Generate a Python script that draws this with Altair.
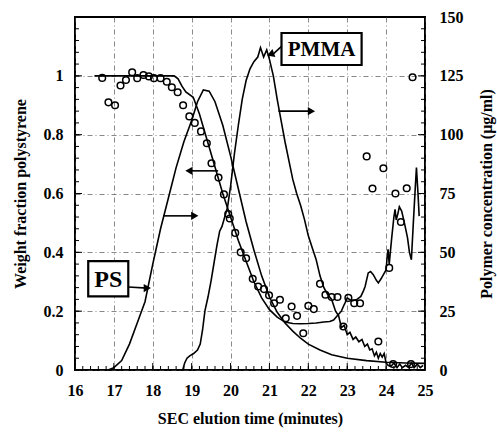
import altair as alt
import pandas as pd
import numpy as np

FONT = "Liberation Serif"
W, H = 350, 353

# ---- weight fraction polystyrene (circles, left axis)
wf_t = [16.70, 16.86, 17.03, 17.17, 17.31, 17.47, 17.60, 17.76, 17.90, 18.03, 18.20, 18.36,
        18.49, 18.64, 18.78, 18.94, 19.08, 19.24, 19.39, 19.51, 19.69, 19.83, 19.94, 19.98,
        20.12, 20.26, 20.40, 20.57, 20.71, 20.86, 20.99, 21.12, 21.27, 21.42, 21.57, 21.71,
        21.87, 22.00, 22.14, 22.30, 22.44, 22.60, 22.75, 22.90, 23.03, 23.18, 23.33, 23.50,
        23.65, 23.80, 23.93, 24.08, 24.18, 24.24, 24.38, 24.53, 24.64, 24.68]
wf_f = [0.993, 0.910, 0.900, 0.967, 0.986, 1.012, 0.992, 1.003, 0.998, 0.992, 0.992, 0.980,
        0.961, 0.944, 0.900, 0.862, 0.840, 0.811, 0.771, 0.703, 0.654, 0.597, 0.530, 0.515,
        0.466, 0.400, 0.380, 0.310, 0.284, 0.275, 0.254, 0.227, 0.239, 0.176, 0.216, 0.184,
        0.125, 0.218, 0.207, 0.293, 0.256, 0.248, 0.248, 0.148, 0.245, 0.227, 0.227, 0.726,
        0.617, 0.097, 0.686, 0.347, 0.020, 0.600, 0.503, 0.618, 0.020, 0.995]

# ---- weight fraction line (left axis)
wfl_t = [16.50, 18.55, 18.65, 18.75, 18.85, 19.04, 19.20, 19.40, 19.60, 19.80, 20.00, 20.20,
         20.40, 20.60, 20.80, 21.00, 21.20, 21.40, 21.60, 21.80, 22.00, 22.20, 22.40, 22.55,
         22.65, 22.75, 22.85, 22.90, 22.95, 23.00, 23.07, 23.15, 23.25, 23.35, 23.42, 23.46,
         23.54, 23.60, 23.67, 23.75, 23.80, 23.87, 23.93, 24.00, 24.03, 24.05, 24.08, 24.14,
         24.20, 24.23, 24.26, 24.30, 24.34, 24.40, 24.47, 24.55, 24.60, 24.65, 24.70, 24.75,
         24.78, 24.82, 24.85]
wfl_f = [1.000, 1.000, 0.990, 0.965, 0.945, 0.927, 0.870, 0.780, 0.690, 0.600, 0.520, 0.440,
         0.370, 0.300, 0.245, 0.205, 0.180, 0.163, 0.158, 0.157, 0.158, 0.160, 0.163, 0.165,
         0.170, 0.185, 0.200, 0.216, 0.230, 0.245, 0.239, 0.236, 0.240, 0.250, 0.270, 0.284,
         0.330, 0.335, 0.324, 0.305, 0.296, 0.310, 0.324, 0.340, 0.390, 0.410, 0.360, 0.444,
         0.520, 0.546, 0.510, 0.530, 0.555, 0.540, 0.500, 0.450, 0.400, 0.375, 0.500, 0.620,
         0.688, 0.600, 0.523]

# ---- PS concentration (right axis)
ps_t = [16.85, 17.00, 17.20, 17.40, 17.60, 17.80, 18.00, 18.20, 18.40, 18.60, 18.80, 19.00,
        19.15, 19.30, 19.45, 19.60, 19.80, 20.00, 20.20, 20.40, 20.60, 20.80, 21.00, 21.20,
        21.40, 21.60, 21.80, 22.00, 22.30, 22.60, 23.00, 23.50, 24.00, 24.50, 25.00]
ps_c = [0.0, 1.0, 4.0, 11.0, 20.0, 29.0, 45.0, 60.0, 73.0, 86.0, 97.0, 106.0,
        114.0, 119.0, 118.5, 114.0, 104.0, 91.0, 77.0, 63.0, 51.0, 40.0, 31.0, 24.5,
        20.0, 16.5, 13.5, 11.0, 8.5, 6.5, 5.0, 4.0, 3.3, 3.0, 2.8]

# ---- PMMA concentration (right axis)
pm_t = [18.77, 18.82, 18.88, 18.95, 19.05, 19.15, 19.22, 19.28, 19.34, 19.42, 19.50, 19.58,
        19.65, 19.72, 19.78, 19.85, 19.92, 20.00, 20.10, 20.20, 20.30, 20.40, 20.50, 20.60,
        20.70, 20.77, 20.85, 20.93, 21.00, 21.10, 21.20, 21.30, 21.40, 21.50, 21.60, 21.70,
        21.80, 21.90, 22.00, 22.10, 22.20, 22.30, 22.40, 22.50, 22.60, 22.70, 22.78, 22.85,
        22.92, 23.00, 23.07, 23.15, 23.22, 23.30, 23.38, 23.45, 23.52, 23.58, 23.64, 23.70,
        23.75, 23.80, 23.85, 23.90, 23.95, 24.00, 24.05, 24.12, 24.20, 24.28, 24.35, 24.42,
        24.50, 24.58, 24.65, 24.72, 24.80, 24.88, 24.95]
pm_c = [0.0, 3.0, 5.0, 6.0, 7.0, 8.5, 11.0, 17.0, 25.0, 31.0, 38.0, 46.0,
        53.0, 59.0, 61.0, 65.0, 69.0, 78.0, 92.0, 104.0, 115.0, 123.0, 128.0, 131.0,
        133.0, 137.0, 133.0, 136.0, 132.0, 125.0, 115.0, 106.0, 97.0, 89.0, 81.0, 75.0,
        70.0, 64.0, 57.0, 52.0, 47.0, 40.0, 35.0, 32.0, 30.0, 25.0, 23.0, 18.0,
        19.0, 15.0, 16.0, 13.0, 14.0, 12.0, 13.0, 10.0, 11.0, 8.5, 9.0, 6.0,
        7.5, 5.0, 7.0, 5.5, 7.0, 3.0, 2.0, 1.5, 3.0, 1.0, 2.5, 1.0,
        2.0, 1.0, 3.0, 1.0, 2.5, 1.0, 2.0]

# ---- tick values
x_major = [16, 17, 18, 19, 20, 21, 22, 23, 24, 25]
x_minor = [round(v, 1) for v in np.arange(16.0, 25.01, 0.2)]
yl_major = [0, 0.2, 0.4, 0.6, 0.8, 1.0]
yl_minor = [round(v, 2) for v in np.arange(0.0, 1.201, 0.04)]
yr_major = [0, 25, 50, 75, 100, 125, 150]
yr_minor = [v for v in range(0, 151, 5)]

# ---- annotations
box_labels = ["PMMA", "PS"]
box_x0 = [21.31, 16.34]
box_x1 = [23.37, 17.37]
box_y0 = [129.6, 31.3]
box_y1 = [143.2, 46.3]
box_size = [21, 24]

arr_x0 = [18.27, 21.23, 17.37, 21.31]
arr_x1 = [19.08, 22.08, 17.86, 21.08]
arr_y0 = [65.5, 110.0, 35.3, 137.5]
arr_y1 = [65.5, 110.0, 34.8, 134.0]
arr_ang = [0, 0, 0, 40]

wfarr_x0 = [19.68]
wfarr_x1 = [18.93]
wfarr_y = [0.677]

xs = alt.Scale(domain=[16, 25], nice=False, zero=False)
yl = alt.Scale(domain=[0, 1.2], nice=False)
yr = alt.Scale(domain=[0, 150], nice=False)

grid_kw = dict(grid=True, gridColor="#444", gridDash=[5, 3, 1, 3], gridWidth=0.8, gridOpacity=0.8)

x_axis = alt.Axis(values=x_major, orient="bottom", title="SEC elution time (minutes)", ticks=False,
                  domain=False, labelPadding=12, titlePadding=12, labelFontSize=16,
                  titleFontSize=16, labelFlush=False, **grid_kw)
left_axis = alt.Axis(values=yl_major, orient="left", title="Weight fraction polystyrene", ticks=False,
                     domain=False, labelPadding=12, labelFontSize=16, titleFontSize=16,
                     labelExpr="datum.value == 0 ? '0' : datum.value == 1 ? '1' : format(datum.value, '.1f')",
                     titlePadding=15, labelFlush=False, **grid_kw)
right_axis = alt.Axis(values=yr_major, orient="right", title="Polymer concentration (μg/ml)",
                      ticks=False, domain=False, grid=False, labelPadding=14,
                      labelFontSize=16, titleFontSize=16, titlePadding=31,
                      titleAngle=270, labelFlush=False)


# every layer on a shared scale carries the same axis definition, so the merged axis stays on
def X(field):
    return alt.X(field, scale=xs, axis=x_axis)


def YL(field):
    return alt.Y(field, scale=yl, axis=left_axis)


def YR(field):
    return alt.Y(field, scale=yr, axis=right_axis)


wf_pts = pd.DataFrame({"t": wf_t, "f": wf_f})
wf_ln = pd.DataFrame({"t": wfl_t, "f": wfl_f})
ps = pd.DataFrame({"t": ps_t, "c": ps_c})
pm = pd.DataFrame({"t": pm_t, "c": pm_c})

# ---------------- left (weight fraction) group
left_line = alt.Chart(wf_ln).mark_line(color="black", strokeWidth=1.6).encode(
    x=X("t:Q"), y=YL("f:Q"))
circles = alt.Chart(wf_pts).mark_point(shape="circle", filled=False, size=44, color="black",
                                       strokeWidth=1.5, opacity=1).encode(
    x=X("t:Q"), y=YL("f:Q"))


def xticks(vals, ln):
    return alt.Chart(pd.DataFrame({"v": vals})).mark_rule(color="black", strokeWidth=1).encode(
        x=X("v:Q"), y=alt.value(H), y2=alt.value(H - ln))


def lticks(vals, ln):
    return alt.Chart(pd.DataFrame({"v": vals})).mark_rule(color="black", strokeWidth=1).encode(
        y=YL("v:Q"), x=alt.value(0), x2=alt.value(ln))


def rticks(vals, ln):
    return alt.Chart(pd.DataFrame({"v": vals})).mark_rule(color="black", strokeWidth=1).encode(
        y=YR("v:Q"), x=alt.value(W), x2=alt.value(W - ln))


wfa = pd.DataFrame({"x0": wfarr_x0, "x1": wfarr_x1, "y": wfarr_y})
wf_arrow = alt.Chart(wfa).mark_rule(color="black", strokeWidth=1.6).encode(
    x=X("x0:Q"), x2="x1:Q", y=YL("y:Q"))
wf_head = alt.Chart(wfa).mark_point(shape="triangle-left", filled=True, size=70, color="black",
                                    opacity=1).encode(
    x=X("x1:Q"), y=YL("y:Q"))

left = alt.layer(left_line, circles, xticks(x_minor, 4), xticks(x_major, 7),
                 lticks(yl_minor, 4), lticks(yl_major, 7), wf_arrow, wf_head)

# ---------------- right (concentration) group
ps_line = alt.Chart(ps).mark_line(color="black", strokeWidth=1.6).encode(
    x=X("t:Q"), y=YR("c:Q"))
pm_line = alt.Chart(pm).mark_line(color="black", strokeWidth=1.6).encode(
    x=X("t:Q"), y=YR("c:Q"))

boxes_df = pd.DataFrame({"label": box_labels, "x0": box_x0, "x1": box_x1, "y0": box_y0,
                         "y1": box_y1, "fs": box_size,
                         "xm": [(a + b) / 2 for a, b in zip(box_x0, box_x1)],
                         "ym": [(a + b) / 2 for a, b in zip(box_y0, box_y1)]})
boxes = alt.Chart(boxes_df).mark_rect(fill="white", stroke="black", strokeWidth=2.2,
                                      strokeOpacity=1).encode(
    x=X("x0:Q"), x2="x1:Q", y=YR("y0:Q"), y2="y1:Q")
texts = alt.Chart(boxes_df).mark_text(font=FONT, fontWeight="bold", color="black",
                                      baseline="middle", align="center", dy=1).encode(
    x=X("xm:Q"), y=YR("ym:Q"),
    text="label:N", size=alt.Size("fs:Q", scale=None, legend=None))

arr_df = pd.DataFrame({"x0": arr_x0, "x1": arr_x1, "y0": arr_y0, "y1": arr_y1, "ang": arr_ang})
arrows = alt.Chart(arr_df).mark_rule(color="black", strokeWidth=1.6).encode(
    x=X("x0:Q"), x2="x1:Q", y=YR("y0:Q"), y2="y1:Q")
heads = alt.Chart(arr_df).mark_point(shape="triangle-right", filled=True, size=70, color="black",
                                     opacity=1).encode(
    x=X("x1:Q"), y=YR("y1:Q"),
    angle=alt.Angle("ang:Q", scale=None))

right = alt.layer(ps_line, pm_line, rticks(yr_minor, 4), rticks(yr_major, 7),
                  arrows, heads, boxes, texts)

chart = alt.layer(left, right).resolve_scale(y="independent").properties(
    width=W, height=H, padding={"left": 75, "top": 17, "right": 72, "bottom": 62},
    autosize=alt.AutoSizeParams(type="none"), background="white"
).configure_view(stroke="black", strokeWidth=2).configure_axis(
    labelFont=FONT, titleFont=FONT, labelFontWeight="bold", titleFontWeight="bold",
    labelColor="black", titleColor="black")

chart.save("out.html", embed_options={"renderer": "svg", "actions": False})
